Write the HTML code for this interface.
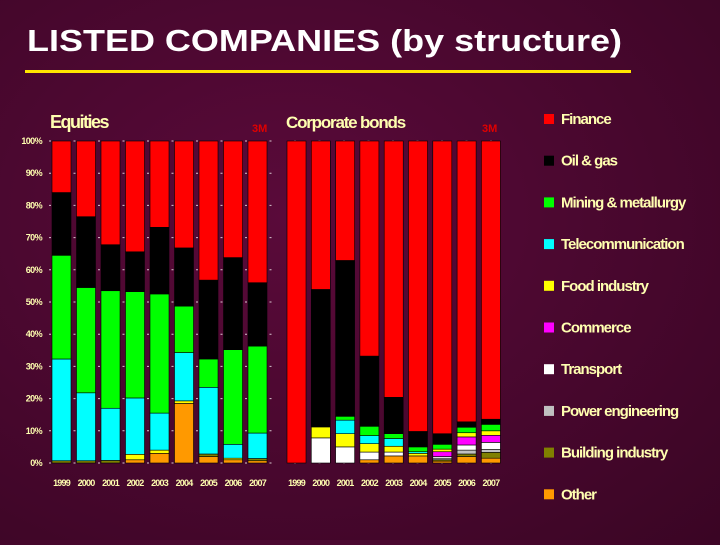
<!DOCTYPE html>
<html><head><meta charset="utf-8"><style>
body{margin:0;width:720px;height:540px;overflow:hidden;background:radial-gradient(ellipse at 40% 40%,#5a0a3a,#3a0524);font-family:"Liberation Sans",sans-serif}
</style></head><body>
<svg id="c" width="720" height="540" xmlns="http://www.w3.org/2000/svg">
<text x="27" y="51" fill="#ffffff" font-size="31" font-weight="bold" textLength="595" lengthAdjust="spacingAndGlyphs">LISTED COMPANIES (by structure)</text>
<rect x="25" y="70" width="606" height="3" fill="#ffe600"/>
<text x="50" y="128" fill="#ffffb0" font-size="18" font-weight="bold" letter-spacing="-1.5">Equities</text>
<text x="252" y="132" fill="#e00000" font-size="11" font-weight="bold">3M</text>
<text x="286" y="128" fill="#ffffb0" font-size="17" font-weight="bold" letter-spacing="-1.2">Corporate bonds</text>
<text x="482" y="132" fill="#e00000" font-size="11" font-weight="bold">3M</text>
</svg>
<script>
const years=["1999","2000","2001","2002","2003","2004","2005","2006","2007"];
const seriesNames=["Other","Building industry","Power engineering","Transport","Commerce","Food industry","Telecommunication","Mining & metallurgy","Oil & gas","Finance"];
const colors=["#ff9900","#808000","#c0c0c0","#ffffff","#ff00ff","#ffff00","#00ffff","#00ff00","#000000","#ff0000"];
const yTicks=[0,10,20,30,40,50,60,70,80,90,100];
// equities, bottom to top
const eqOther=[0,0,0,1,3,18.5,2,1,0.7];
const eqBuilding=[0.7,0.7,0.8,0,0,0,0.8,0,0.7];
const eqPower=[0,0,0,0,0,0,0,0,0];
const eqTransport=[0,0,0,0,0,0,0,0,0];
const eqCommerce=[0,0,0,0,0,0,0,0,0];
const eqFood=[0,0,0,1.7,1,0.8,0,0.5,0];
const eqTelecom=[31.6,21.1,16.2,17.5,11.5,15,20.7,4.3,7.9];
const eqMining=[32.2,32.7,36.5,33,37,14.4,8.8,29.4,27];
const eqOil=[19.5,22,14.3,12.4,20.7,18.1,24.5,28.6,19.7];
const eqFinance=[16,23.5,32.2,34.4,26.8,33.2,43.2,36.2,44];
// corporate bonds
const bdOther=[0,0,0,1,2.2,2.2,0.6,2,1.5];
const bdBuilding=[0,0,0,0,0,0,0.4,0.8,1.8];
const bdPower=[0,0,0,0,0,0,0.5,1.2,0.9];
const bdTransport=[0,7.8,5,2.4,1.2,0,0.5,1.6,2.2];
const bdCommerce=[0,0,0,0,0,0,1.5,2.5,2.2];
const bdFood=[0,3.4,4.1,2.6,1.8,0.8,0.8,1.3,1.4];
const bdTelecom=[0,0,4.2,2.5,2.4,0.5,0,0,0];
const bdMining=[0,0,1.2,2.9,1.5,1.5,1.5,1.7,2];
const bdOil=[0,42.7,48.4,21.8,11.3,4.8,3.3,1.7,1.6];
const bdFinance=[100,46.1,37.1,66.8,79.6,90.2,90.9,87.2,86.4];

const svg=document.getElementById('c');
const NS="http://www.w3.org/2000/svg";
function mk(t,a){const e=document.createElementNS(NS,t);for(const k in a)e.setAttribute(k,a[k]);svg.appendChild(e);return e;}
const y0=463,y1=141;
function yS(v){return y0-(y0-y1)*v/100;}
yTicks.forEach(t=>{
 const e=mk('text',{x:42,y:yS(t)+3,'text-anchor':'end',fill:'#ffffb0','font-size':9,'font-weight':'bold','letter-spacing':-0.6});
 e.textContent=t+'%';
 
 
 const g=mk('line',{x1:48,x2:505,y1:yS(t),y2:yS(t),stroke:'#d8c8d0','stroke-width':1,'stroke-dasharray':'2 22.5','stroke-dashoffset':-1});
 
 
});
function drawPanel(x0,pitch,bw,stacks,prefix){
 years.forEach((yr,i)=>{
  let acc=0;const x=x0+i*pitch;
  stacks.forEach((arr,s)=>{
   const v=arr[i];if(v<=0)return;
   const r=mk('rect',{x:x,y:yS(acc+v),width:bw,height:yS(acc)-yS(acc+v),fill:colors[s],stroke:'#000','stroke-width':0.6});
   
   
   acc+=v;
  });
  const t=mk('text',{x:x+bw/2,y:486,'text-anchor':'middle',fill:'#ffffb0','font-size':9,'font-weight':'bold','letter-spacing':-0.8});
  t.textContent=yr;
  
  
 });
}
drawPanel(52,24.5,19,[eqOther,eqBuilding,eqPower,eqTransport,eqCommerce,eqFood,eqTelecom,eqMining,eqOil,eqFinance],'equities');
drawPanel(287,24.3,19,[bdOther,bdBuilding,bdPower,bdTransport,bdCommerce,bdFood,bdTelecom,bdMining,bdOil,bdFinance],'bonds');
const legendOrder=[9,8,7,6,5,4,3,2,1,0];
legendOrder.forEach((s,j)=>{
 const y=119+j*41.7;
 const r=mk('rect',{x:544,y:y-5,width:10,height:10,fill:colors[s]});
 
 
 const t=mk('text',{x:561,y:y+5,fill:'#ffffb0','font-size':15,'font-weight':'bold','letter-spacing':-1});
 t.textContent=seriesNames[s];
 
 
});
</script>
</body></html>
